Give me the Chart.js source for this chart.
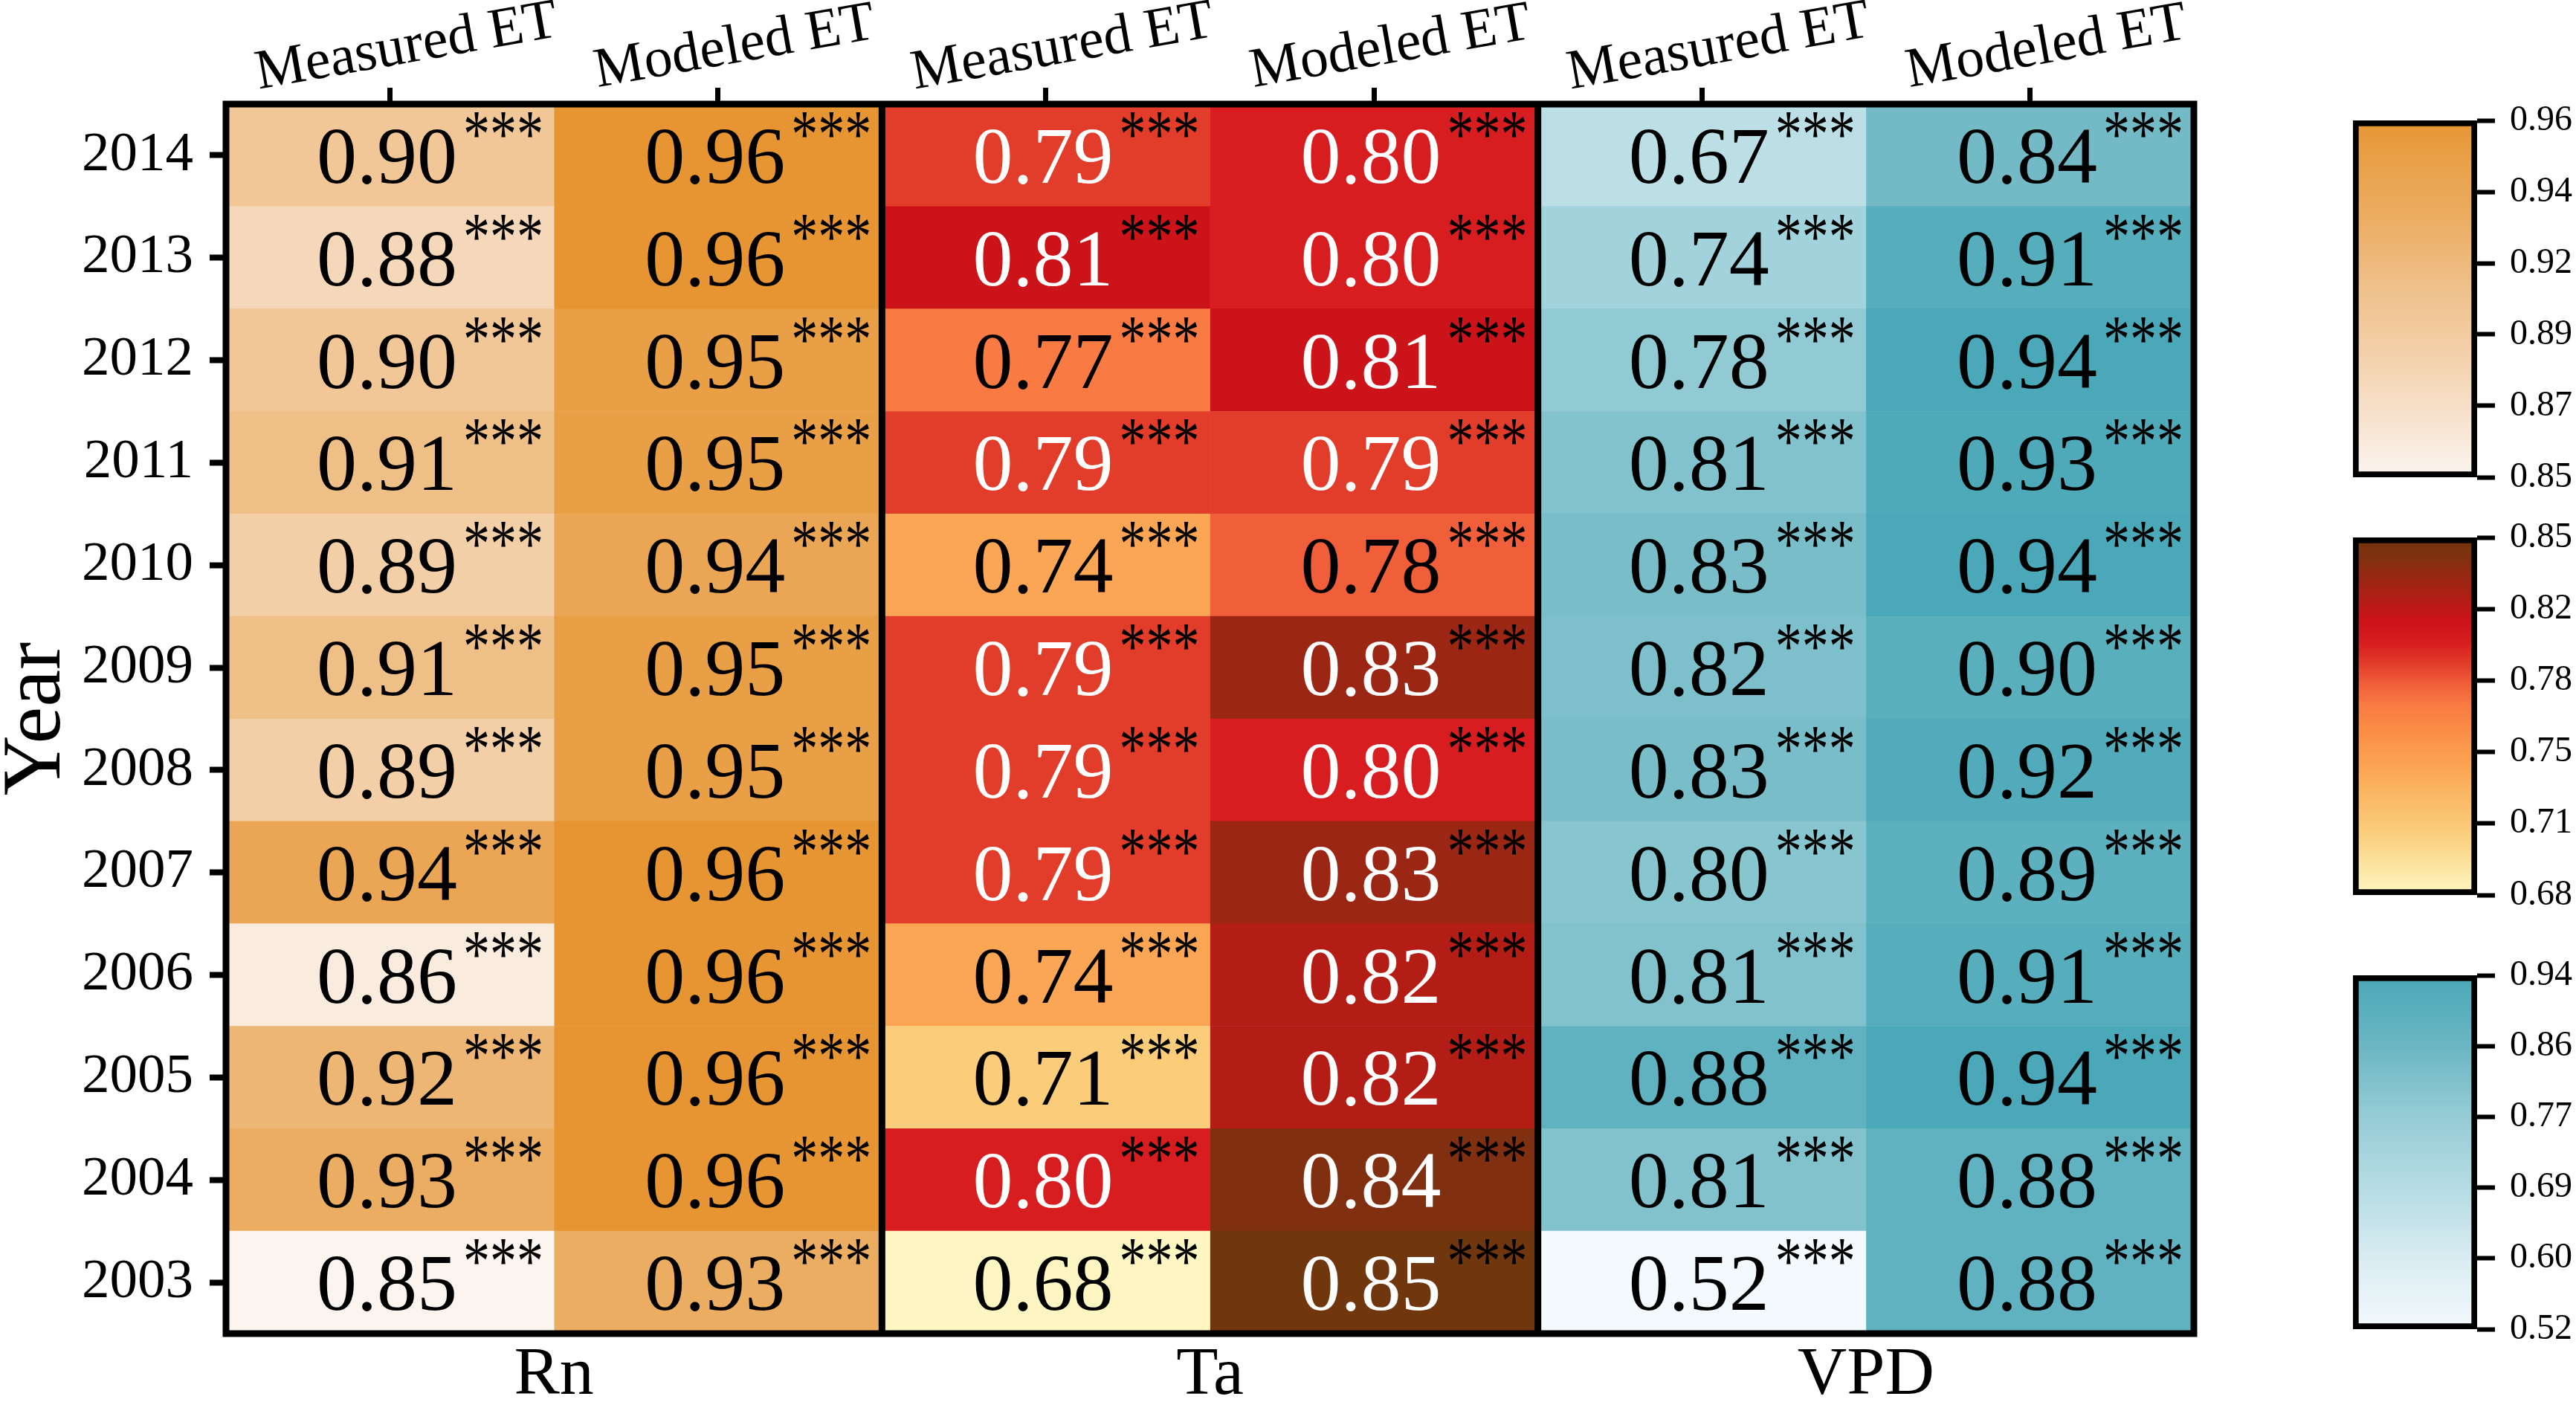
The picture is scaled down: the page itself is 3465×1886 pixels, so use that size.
<!DOCTYPE html>
<html>
<head>
<meta charset="utf-8">
<script src="https://cdn.jsdelivr.net/npm/chart.js@4.4.1/dist/chart.umd.min.js"></script>
<style>
  html, body { margin: 0; padding: 0; background: #fff; }
  #wrap { position: relative; width: 3465px; height: 1886px; }
  canvas { position: absolute; }
</style>
</head>
<body>
<div id="wrap">
  <canvas id="heat" width="3465" height="1886" style="left:0;top:0"></canvas>
  <canvas id="cbRn" width="365" height="580" style="left:3100px;top:112px"></canvas>
  <canvas id="cbTa" width="365" height="581" style="left:3100px;top:673px"></canvas>
  <canvas id="cbVpd" width="365" height="576" style="left:3100px;top:1262px"></canvas>
</div>
<script>
// rows top to bottom
const years = ['2014', '2013', '2012', '2011', '2010', '2009', '2008', '2007', '2006', '2005', '2004', '2003'];
const colLabels = ['Measured ET', 'Modeled ET', 'Measured ET', 'Modeled ET', 'Measured ET', 'Modeled ET'];
const groupLabels = ['Rn', 'Ta', 'VPD'];

const rnMeasured  = [0.90, 0.88, 0.90, 0.91, 0.89, 0.91, 0.89, 0.94, 0.86, 0.92, 0.93, 0.85];
const rnModeled   = [0.96, 0.96, 0.95, 0.95, 0.94, 0.95, 0.95, 0.96, 0.96, 0.96, 0.96, 0.93];
const taMeasured  = [0.79, 0.81, 0.77, 0.79, 0.74, 0.79, 0.79, 0.79, 0.74, 0.71, 0.80, 0.68];
const taModeled   = [0.80, 0.80, 0.81, 0.79, 0.78, 0.83, 0.80, 0.83, 0.82, 0.82, 0.84, 0.85];
const vpdMeasured = [0.67, 0.74, 0.78, 0.81, 0.83, 0.82, 0.83, 0.80, 0.81, 0.88, 0.81, 0.52];
const vpdModeled  = [0.84, 0.91, 0.94, 0.93, 0.94, 0.90, 0.92, 0.89, 0.91, 0.94, 0.88, 0.88];

// colorbar tick labels (bottom to top)
const rnTicks  = ['0.85', '0.87', '0.89', '0.92', '0.94', '0.96'];
const taTicks  = ['0.68', '0.71', '0.75', '0.78', '0.82', '0.85'];
const vpdTicks = ['0.52', '0.60', '0.69', '0.77', '0.86', '0.94'];

const FONT = '"Liberation Serif", "Times New Roman", serif';

// colour ramps: [value, colour]
const rnStops = [[0.85, '#fbf4ef'], [0.87, '#f7e1cb'], [0.89, '#f3cfa7'], [0.91, '#efbf88'],
                 [0.93, '#ebad62'], [0.95, '#e89f45'], [0.96, '#e69532']];
const taStops = [[0.68, '#fef6c2'], [0.70, '#fbdc92'], [0.71, '#fbcd7b'], [0.73, '#fab460'],
                 [0.74, '#fba655'], [0.76, '#fb8b45'], [0.77, '#f97b43'], [0.78, '#f05f3a'],
                 [0.79, '#e23c2a'], [0.80, '#d81d20'], [0.81, '#cd131a'], [0.82, '#b41c16'],
                 [0.83, '#9b2613'], [0.84, '#803010'], [0.85, '#70360d']];
const vpdStops = [[0.52, '#f3f9fc'], [0.60, '#dbedf2'], [0.67, '#bcdfe6'], [0.74, '#a2d2db'],
                  [0.78, '#92cad4'], [0.81, '#82c2cd'], [0.84, '#73bac6'], [0.88, '#61b2c0'],
                  [0.91, '#56adbb'], [0.94, '#4aa8b8']];

function hexRgb(h) {
  return [parseInt(h.slice(1, 3), 16), parseInt(h.slice(3, 5), 16), parseInt(h.slice(5, 7), 16)];
}

function colorAt(stops, v) {
  if (v <= stops[0][0]) return stops[0][1];
  for (let i = 1; i < stops.length; i++) {
    if (v <= stops[i][0]) {
      const t = (v - stops[i - 1][0]) / (stops[i][0] - stops[i - 1][0]);
      const a = hexRgb(stops[i - 1][1]), b = hexRgb(stops[i][1]);
      const c = a.map((x, k) => Math.round(x + (b[k] - x) * t));
      return `rgb(${c[0]},${c[1]},${c[2]})`;
    }
  }
  return stops[stops.length - 1][1];
}

const columns = [rnMeasured, rnModeled, taMeasured, taModeled, vpdMeasured, vpdModeled];
const ramps = [rnStops, rnStops, taStops, taStops, vpdStops, vpdStops];

// numbers, stars and the black frame
const cellText = {
  id: 'cellText',
  afterDatasetsDraw(chart) {
    const { ctx, chartArea, scales: { x, y } } = chart;
    ctx.save();
    columns.forEach((vals, c) => {
      const cx = x.getPixelForValue(c + 0.5) - 4;
      vals.forEach((v, r) => {
        const cy = y.getPixelForValue(r);
        const txt = v.toFixed(2);
        ctx.font = `108px ${FONT}`;
        ctx.textAlign = 'center';
        ctx.textBaseline = 'alphabetic';
        ctx.fillStyle = (c === 2 || c === 3) && v >= 0.79 ? '#ffffff' : '#000000';
        ctx.fillText(txt, cx, cy + 37);
        const w = ctx.measureText(txt).width;
        ctx.save();
        ctx.translate(cx + w / 2 + 8, cy + 2);
        ctx.scale(0.8, 1);
        ctx.font = `90px ${FONT}`;
        ctx.textAlign = 'left';
        ctx.fillStyle = '#000000';
        ctx.fillText('***', 0, 0);
        ctx.restore();
      });
    });
    ctx.strokeStyle = '#000';
    ctx.lineWidth = 9;
    ctx.strokeRect(chartArea.left, chartArea.top, chartArea.right - chartArea.left, chartArea.bottom - chartArea.top);
    [2, 4].forEach(v => {
      const px = x.getPixelForValue(v);
      ctx.beginPath();
      ctx.moveTo(px, chartArea.top);
      ctx.lineTo(px, chartArea.bottom);
      ctx.stroke();
    });
    ctx.restore();
  },
  afterDraw(chart) {
    // slanted column labels above the top ticks
    const { ctx } = chart;
    const top = chart.scales.xTop;
    ctx.save();
    colLabels.forEach((lab, c) => {
      const px = top.getPixelForValue(c + 0.5) + 26;
      ctx.save();
      ctx.translate(px, 84);
      ctx.rotate(-10 * Math.PI / 180);
      ctx.font = `76px ${FONT}`;
      ctx.textAlign = 'center';
      ctx.textBaseline = 'alphabetic';
      ctx.fillStyle = '#000';
      ctx.fillText(lab, 0, 0);
      ctx.restore();
    });
    ctx.restore();
  }
};

new Chart(document.getElementById('heat'), {
  type: 'bar',
  data: {
    labels: years,
    datasets: columns.map((vals, c) => ({
      data: vals.map(() => [c, c + 1]),
      backgroundColor: vals.map(v => colorAt(ramps[c], v)),
      borderWidth: 0,
      barPercentage: 1,
      categoryPercentage: 1,
      grouped: false
    }))
  },
  options: {
    indexAxis: 'y',
    responsive: false,
    animation: false,
    devicePixelRatio: 1,
    layout: { padding: { left: 0, top: 0, bottom: 0, right: 514 } },
    plugins: { legend: { display: false }, tooltip: { enabled: false } },
    scales: {
      x: {
        type: 'linear', position: 'bottom', min: 0, max: 6,
        afterBuildTicks: s => { s.ticks = [1, 3, 5].map(v => ({ value: v })); },
        ticks: {
          callback: (v, i) => groupLabels[i],
          font: { family: FONT, size: 92 }, color: '#000', padding: 2,
          maxRotation: 0, autoSkip: false
        },
        grid: { display: false, drawTicks: false },
        border: { display: false },
        afterFit: s => { s.height = 92; }
      },
      xTop: {
        type: 'linear', position: 'top', min: 0, max: 6,
        afterBuildTicks: s => { s.ticks = colLabels.map((_, i) => ({ value: i + 0.5 })); },
        ticks: { callback: () => '', autoSkip: false, maxRotation: 0 },
        grid: { drawOnChartArea: false, drawTicks: true, tickLength: 22, tickWidth: 7, tickColor: '#000' },
        border: { display: false },
        afterFit: s => { s.height = 140; }
      },
      y: {
        type: 'category', position: 'left',
        ticks: { font: { family: FONT, size: 75 }, color: '#000', padding: 22, autoSkip: false },
        grid: { offset: false, drawOnChartArea: false, tickLength: 22, tickWidth: 8, tickColor: '#000' },
        border: { display: false },
        title: {
          display: true, text: 'Year', color: '#000', padding: { top: 11, bottom: 0 },
          font: { family: FONT, size: 112, lineHeight: 0.7 }
        },
        afterFit: s => { s.width = 304; }
      }
    }
  },
  plugins: [cellText]
});

function colorbar(id, tickLabels, stops) {
  const lo = Number(tickLabels[0]);
  const hi = Number(tickLabels[tickLabels.length - 1]);
  new Chart(document.getElementById(id), {
    type: 'bar',
    data: {
      labels: [''],
      datasets: [{
        data: [[lo, hi]],
        backgroundColor: c => {
          const area = c.chart.chartArea;
          if (!area) return stops[0][1];
          const g = c.chart.ctx.createLinearGradient(0, area.bottom, 0, area.top);
          stops.forEach(([v, col]) => g.addColorStop(Math.min(1, Math.max(0, (v - lo) / (hi - lo))), col));
          return g;
        },
        borderColor: '#000',
        borderWidth: 8,
        borderSkipped: false,
        barPercentage: 1,
        categoryPercentage: 1
      }]
    },
    options: {
      responsive: false,
      animation: false,
      devicePixelRatio: 1,
      layout: { padding: { left: 65, top: 50, bottom: 50, right: 0 } },
      plugins: { legend: { display: false }, tooltip: { enabled: false } },
      scales: {
        x: { display: false },
        y: {
          position: 'right', min: lo, max: hi,
          afterBuildTicks: s => {
            s.ticks = tickLabels.map((_, i) => ({ value: lo + (hi - lo) * i / (tickLabels.length - 1) }));
          },
          ticks: { callback: (v, i) => tickLabels[i], font: { family: FONT, size: 48 }, color: '#000', padding: 20, autoSkip: false },
          grid: { drawOnChartArea: false, tickLength: 24, tickWidth: 6, tickColor: '#000' },
          border: { display: false },
          afterFit: s => { s.width = 133; }
        }
      }
    }
  });
}

colorbar('cbRn', rnTicks, rnStops);
colorbar('cbTa', taTicks, taStops);
colorbar('cbVpd', vpdTicks, vpdStops);
</script>
</body>
</html>
